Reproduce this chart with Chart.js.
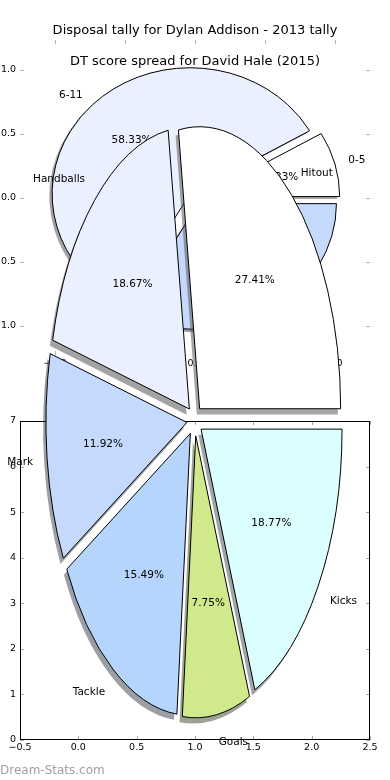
<!DOCTYPE html>
<html>
<head>
<meta charset="utf-8">
<script src="https://cdn.jsdelivr.net/npm/chart.js@4.4.1/dist/chart.umd.min.js"></script>
<style>
  html, body { margin: 0; padding: 0; background: #fff; }
  #stage { position: relative; width: 390px; height: 780px; overflow: hidden; }
  #stage canvas { position: absolute; left: 0; top: 0; }
  #brand { position: absolute; left: 0; top: 763px; font: 12px/14px 'DejaVu Sans', sans-serif; color: #a0a0a0; }
</style>
</head>
<body>
<div id="stage">
  <canvas id="topAxes" width="390" height="780"></canvas>
  <canvas id="dtPie" width="390" height="780"></canvas>
  <canvas id="bottomAxes" width="390" height="780"></canvas>
  <canvas id="disposalPie" width="390" height="780"></canvas>
  <div id="brand">Dream-Stats.com</div>
</div>
<script>
// Disposal tally for Dylan Addison - 2013 (share of disposals, %)
const disposalLabels = ['Kicks', 'Goals', 'Tackle', 'Mark', 'Handballs', 'Hitout'];
const disposalShare = [18.77, 7.75, 15.49, 11.92, 18.67, 27.41];
const disposalColors = ['#dbfefe', '#d0ea8b', '#b6d5fd', '#c5d9fd', '#eaf0fd', '#ffffff'];

// DT score spread for David Hale (2015) - games per band
const dtBands = ['0-5', '6-11', '12-17'];
const dtGames = [1, 7, 4];
const dtColors = ['#ffffff', '#eaf0fd', '#c5d9fd'];

// Axis ticks
const topXTicks = [-1, -0.5, 0, 0.5, 1];
const topYTicks = [-1, -0.5, 0, 0.5, 1];
const bottomXTicks = [-0.5, 0, 0.5, 1, 1.5, 2, 2.5];
const bottomYTicks = [0, 1, 2, 3, 4, 5, 6, 7];

Chart.defaults.font.family = "'DejaVu Sans', sans-serif";
Chart.defaults.color = '#000';

const labelFont = "10.5px 'DejaVu Sans', sans-serif";
const dec = v => (v < 0 ? '\u2212' : '') + Math.abs(v).toFixed(1);

// matplotlib shadow: 30% of the face colour at half alpha
function shade(hex) {
    const n = parseInt(hex.slice(1), 16);
    const r = (n >> 16) & 255, g = (n >> 8) & 255, b = n & 255;
    return `rgba(${Math.round(r * 0.3)}, ${Math.round(g * 0.3)}, ${Math.round(b * 0.3)}, 0.5)`;
}

// Pie drawn the matplotlib way: squashed to an ellipse, exploded, shadowed, labelled outside
const mplPie = {
    id: 'mplPie',
    beforeDatasetsDraw(chart, args, opts) {
        const ctx = chart.ctx;
        const arcs = chart.getDatasetMeta(0).data;
        const cx = arcs[0].x, cy = arcs[0].y;
        const dpr = chart.currentDevicePixelRatio;
        const stroke = ctx.stroke;

        ctx.save();
        ctx.translate(cx, cy);
        ctx.scale(1, opts.squash);
        ctx.translate(-cx, -cy);
        // keep the edges 1px thick whatever the squash
        ctx.stroke = function () {
            this.save();
            this.setTransform(dpr, 0, 0, dpr, 0, 0);
            stroke.call(this);
            this.restore();
        };

        ['shadow', 'wedge'].forEach(pass => {
            arcs.forEach(arc => {
                const mid = (arc.startAngle + arc.endAngle) / 2;
                const d = opts.explode * arc.outerRadius;
                const s = pass === 'shadow' ? opts.shadow * arc.outerRadius : 0;
                ctx.save();
                ctx.translate(Math.cos(mid) * d - s, Math.sin(mid) * d + s);
                if (pass === 'shadow') {
                    const o = arc.options;
                    arc.options = Object.assign({}, o, { backgroundColor: shade(o.backgroundColor), borderWidth: 0 });
                    arc.draw(ctx);
                    arc.options = o;
                } else {
                    arc.draw(ctx);
                }
                ctx.restore();
            });
        });

        delete ctx.stroke;
        ctx.restore();
        return false;
    },
    afterDraw(chart, args, opts) {
        const ctx = chart.ctx;
        const arcs = chart.getDatasetMeta(0).data;
        const values = chart.data.datasets[0].data;
        const total = values.reduce((a, b) => a + b, 0);

        ctx.save();
        ctx.font = labelFont;
        ctx.fillStyle = '#000';
        ctx.textBaseline = 'middle';
        arcs.forEach((arc, i) => {
            const mid = (arc.startAngle + arc.endAngle) / 2;
            const r = arc.outerRadius;
            const d = opts.explode * r;
            const at = f => [
                arc.x + Math.cos(mid) * (d + f * r),
                arc.y + opts.squash * Math.sin(mid) * (d + f * r)
            ];

            let [x, y] = at(1.1);
            ctx.textAlign = x > arc.x ? 'left' : 'right';
            ctx.fillText(chart.data.labels[i], x, y);

            [x, y] = at(0.6);
            ctx.textAlign = 'center';
            ctx.fillText((values[i] / total * 100).toFixed(2) + '%', x, y);
        });
        ctx.restore();
    }
};

// Inward ticks on all four sides, optional black frame
const innerTicks = {
    id: 'innerTicks',
    afterDraw(chart, args, opts) {
        const { ctx, chartArea: a, scales: { x, y } } = chart;
        const len = 4;
        ctx.save();
        ctx.lineWidth = 1;
        ctx.strokeStyle = opts.color;
        ctx.beginPath();
        x.ticks.forEach(t => {
            const px = Math.round(x.getPixelForValue(t.value)) + 0.5;
            ctx.moveTo(px, a.top);
            ctx.lineTo(px, a.top + len);
            ctx.moveTo(px, a.bottom);
            ctx.lineTo(px, a.bottom - len);
        });
        y.ticks.forEach(t => {
            const py = Math.round(y.getPixelForValue(t.value)) + 0.5;
            ctx.moveTo(a.left, py);
            ctx.lineTo(a.left + len, py);
            ctx.moveTo(a.right, py);
            ctx.lineTo(a.right - len, py);
        });
        ctx.stroke();
        if (opts.frame) {
            ctx.strokeStyle = '#000';
            ctx.strokeRect(a.left + 0.5, a.top + 0.5, a.right - a.left - 1, a.bottom - a.top - 1);
        }
        ctx.restore();
    }
};

function axis(ticks, min, max, fmt, size, pad) {
    return {
        type: 'linear',
        min: min,
        max: max,
        grid: { display: false, drawTicks: false },
        border: { display: false },
        afterBuildTicks: s => { s.ticks = ticks.map(v => ({ value: v })); },
        afterFit: s => {
            if (s.isHorizontal()) s.height = size;
            else s.width = size;
        },
        ticks: { callback: fmt, font: { size: 9.5 }, padding: pad, autoSkip: false, maxRotation: 0 }
    };
}

// empty right-hand axis that only reserves a margin
function spacer(size) {
    return {
        type: 'linear',
        position: 'right',
        grid: { display: false, drawTicks: false },
        border: { display: false },
        ticks: { display: false },
        afterFit: s => { s.width = size; }
    };
}

const quiet = { legend: { display: false }, tooltip: { enabled: false } };

// Upper axes (frameless)
new Chart(document.getElementById('topAxes'), {
    type: 'scatter',
    data: { datasets: [] },
    options: {
        responsive: false,
        animation: false,
        events: [],
        scales: {
            x: axis(topXTicks, -1.25, 1.25, dec, 425, 3),
            y: axis(topYTicks, -1.227, 1.234, dec, 20, 4),
            yRight: spacer(20)
        },
        plugins: {
            ...quiet,
            title: {
                display: true,
                text: 'Disposal tally for Dylan Addison - 2013 tally',
                font: { size: 13, weight: 'normal' },
                color: '#000',
                padding: { top: 22.5, bottom: 1.9 }
            },
            innerTicks: { color: '#b4b4b4', frame: false }
        }
    },
    plugins: [innerTicks]
});

// DT score pie (matplotlib runs it counter-clockwise, Chart.js clockwise)
new Chart(document.getElementById('dtPie'), {
    type: 'pie',
    data: {
        labels: [...dtBands].reverse(),
        datasets: [{
            data: [...dtGames].reverse(),
            backgroundColor: [...dtColors].reverse(),
            borderColor: '#000',
            borderWidth: 1,
            borderJoinStyle: 'miter'
        }]
    },
    options: {
        responsive: false,
        animation: false,
        events: [],
        rotation: 90,
        radius: 138,
        layout: { padding: { bottom: 452.8 } },
        plugins: {
            ...quiet,
            title: {
                display: true,
                text: 'DT score spread for David Hale (2015)',
                font: { size: 13, weight: 'normal' },
                color: '#000',
                padding: { top: 53.6, bottom: 0 }
            },
            mplPie: { squash: 126 / 138, explode: 0.05, shadow: 0.02 }
        }
    },
    plugins: [mplPie]
});

// Lower axes (framed)
new Chart(document.getElementById('bottomAxes'), {
    type: 'scatter',
    data: { datasets: [] },
    options: {
        responsive: false,
        animation: false,
        events: [],
        layout: { padding: { top: 421, right: 20 } },
        scales: {
            x: axis(bottomXTicks, -0.5, 2.5, dec, 40, 2),
            y: axis(bottomYTicks, 0, 7, v => String(v), 20, 4)
        },
        plugins: {
            ...quiet,
            innerTicks: { color: '#a8a8a8', frame: true }
        }
    },
    plugins: [innerTicks]
});

// Disposal pie, stretched tall
new Chart(document.getElementById('disposalPie'), {
    type: 'pie',
    data: {
        labels: disposalLabels,
        datasets: [{
            data: disposalShare,
            backgroundColor: disposalColors,
            borderColor: '#000',
            borderWidth: 1,
            borderJoinStyle: 'miter'
        }]
    },
    options: {
        responsive: false,
        animation: false,
        events: [],
        rotation: 90,
        radius: 141,
        layout: { padding: { top: 61, right: 0.8 } },
        plugins: {
            ...quiet,
            mplPie: { squash: 2, explode: 0.055, shadow: 0.02 }
        }
    },
    plugins: [mplPie]
});
</script>
</body>
</html>
